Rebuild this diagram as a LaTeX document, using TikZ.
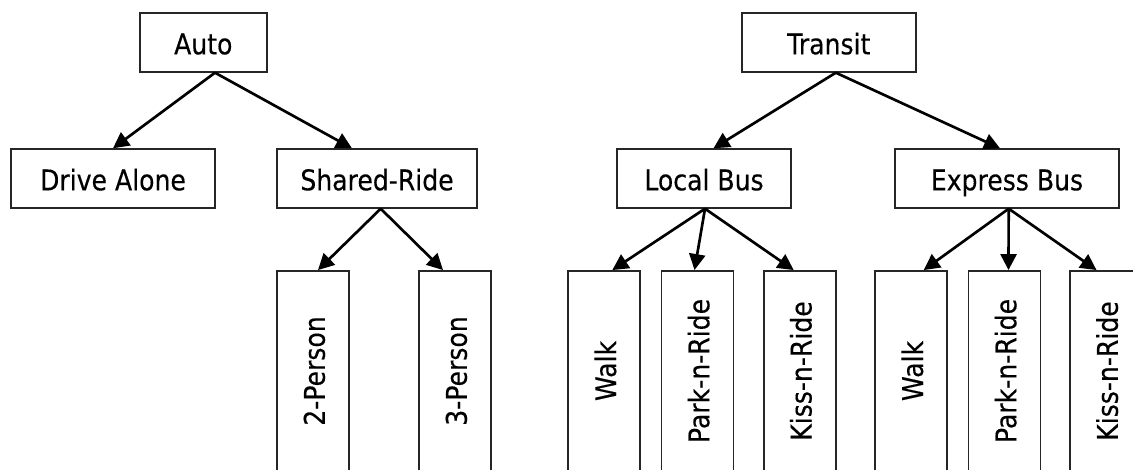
\documentclass[tikz,border=0pt]{standalone}
\usepackage{fontspec}
\setmainfont{DejaVu Sans}[FakeStretch=0.88,FakeBold=0.3]
\usetikzlibrary{arrows.meta,calc}

\newcommand{\vtext}[1]{\rotatebox{90}{\raisebox{0pt}[17.7pt][0pt]{#1}}}

\tikzset{
  choice/.style={draw=black!85, line width=1.4pt, inner sep=0pt, minimum height=43.9pt,
    text height=17.7pt, text depth=0pt, font=\fontsize{21.4}{25}\selectfont},
  leaf/.style={draw=black!85, line width=1.4pt, inner sep=0pt, minimum width=54pt,
    minimum height=150pt, font=\fontsize{21.4}{25}\selectfont},
  branch/.style={line width=2pt, -{Triangle[length=12pt,width=12pt]}}
}

\begin{document}
\begin{tikzpicture}[x=0.75pt, y=-0.75pt]
  \useasboundingbox (0,0) rectangle (1133,470);

  % Auto nest
  \node[choice, minimum width=95pt] (auto) at (203.3,42.5) {Auto};
  \node[choice, minimum width=153pt] (alone) at (113,178.5) {Drive Alone};
  \node[choice, minimum width=150pt] (shared) at (377,178.5) {Shared-Ride};
  \node[leaf] (two) at (313,371) {\vtext{2-Person}};
  \node[leaf] (three) at (455,371) {\vtext{3-Person}};

  % Transit nest
  \node[choice, minimum width=130.2pt] (transit) at (828.8,42.5) {Transit};
  \node[choice, minimum width=130.5pt] (local) at (704,178.5) {Local Bus};
  \node[choice, minimum width=167.6pt] (express) at (1007,178.5) {Express Bus};
  \node[leaf] (lwalk) at (604.3,371) {\vtext{Walk}};
  \node[leaf] (lpark) at (697.5,371) {\vtext{Park-n-Ride}};
  \node[leaf] (lkiss) at (799.7,371) {\vtext{Kiss-n-Ride}};
  \node[leaf] (ewalk) at (911.2,371) {\vtext{Walk}};
  \node[leaf] (epark) at (1004.5,371) {\vtext{Park-n-Ride}};
  \node[leaf] (ekiss) at (1106,371) {\vtext{Kiss-n-Ride}};

  % branches
  \draw[branch] ($(auto.south)+(11.7,0)$) -- (alone.north);
  \draw[branch] ($(auto.south)+(11.7,0)$) -- ($(shared.north)+(-25,0)$);
  \draw[branch] ($(shared.south)+(3.7,0)$) -- ($(two.north)+(5,0)$);
  \draw[branch] ($(shared.south)+(3.7,0)$) -- ($(three.north)+(-12,0)$);

  \draw[branch] ($(transit.south)+(7,0)$) -- ($(local.north)+(9.5,0)$);
  \draw[branch] ($(transit.south)+(7,0)$) -- ($(express.north)+(-7,0)$);
  \draw[branch] ($(local.south)+(1,0)$) -- ($(lwalk.north)+(8,0)$);
  \draw[branch] ($(local.south)+(1,0)$) -- ($(lpark.north)+(-3,0)$);
  \draw[branch] ($(local.south)+(1,0)$) -- ($(lkiss.north)+(-6,0)$);
  \draw[branch] ($(express.south)+(1.7,0)$) -- ($(ewalk.north)+(12.5,0)$);
  \draw[branch] ($(express.south)+(1.7,0)$) -- ($(epark.north)+(4,0)$);
  \draw[branch] ($(express.south)+(1.7,0)$) -- ($(ekiss.north)+(-9.5,0)$);
\end{tikzpicture}
\end{document}
